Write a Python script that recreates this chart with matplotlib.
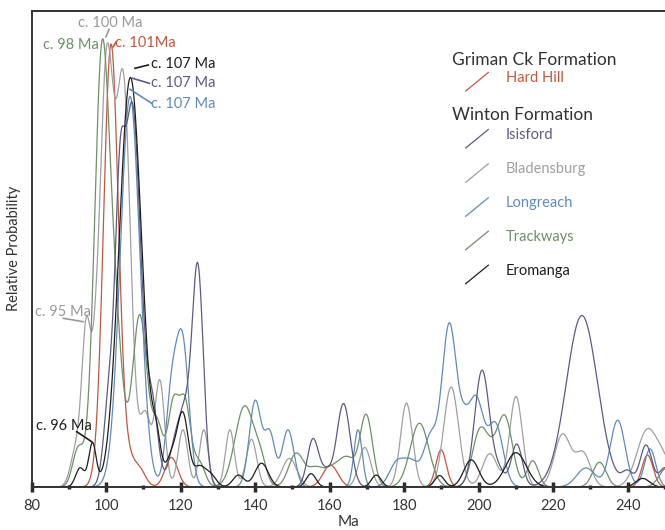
import numpy as np
import matplotlib
matplotlib.use("Agg")
import matplotlib.pyplot as plt
from matplotlib.lines import Line2D

plt.rcParams['font.family'] = ['Lato', 'DejaVu Sans']

# peak ages (Ma), relative heights and widths (Ma) of each probability curve
hard_hill_ages = [101.3, 106.3, 109.0, 117.5, 160.2, 189.9, 245.3]
hard_hill_heights = [0.93, 0.04, 0.035, 0.062, 0.046, 0.078, 0.067]
hard_hill_widths = [2.0, 1.5, 1.6, 1.7, 2.0, 1.4, 1.5]

isisford_ages = [101.0, 103.6, 107.0, 112.5, 118.0, 121.0, 124.6, 155.5, 159.0, 163.7,
                 200.9, 205.5, 210.2, 227.7, 240.0, 244.9, 250.0]
isisford_heights = [0.2, 0.4, 0.8, 0.15, 0.06, 0.15, 0.45, 0.1, 0.03, 0.175,
                    0.245, 0.03, 0.09, 0.36, 0.03, 0.088, 0.04]
isisford_widths = [1.5, 1.2, 2.3, 1.5, 1.5, 1.8, 1.5, 1.5, 1.5, 1.8,
                   2.0, 1.5, 1.5, 4.2, 1.5, 1.6, 1.5]

bladensburg_ages = [92.0, 94.7, 97.0, 100.1, 104.7, 110.5, 114.4, 120.6, 126.2, 133.2,
                    139.0, 149.2, 169.4, 180.6, 192.6, 203.0, 210.0, 222.5, 228.0, 245.3, 250.0]
bladensburg_heights = [0.08, 0.32, 0.1, 0.88, 0.82, 0.15, 0.22, 0.12, 0.12, 0.12,
                       0.1, 0.06, 0.083, 0.176, 0.21, 0.07, 0.19, 0.11, 0.07, 0.12, 0.04]
bladensburg_widths = [1.5, 1.2, 1.0, 1.9, 1.9, 1.5, 1.3, 1.3, 1.2, 1.2,
                      1.4, 2.0, 1.6, 1.6, 2.0, 2.0, 1.7, 2.2, 2.0, 2.8, 2.0]

longreach_ages = [106.4, 117.5, 120.5, 140.0, 143.9, 148.8, 167.6, 178.0, 182.0, 187.0,
                  192.1, 196.0, 199.3, 204.5, 228.8, 237.3, 246.0]
longreach_heights = [0.82, 0.18, 0.3, 0.18, 0.11, 0.12, 0.12, 0.05, 0.05, 0.1,
                     0.34, 0.08, 0.18, 0.13, 0.04, 0.14, 0.08]
longreach_widths = [2.6, 1.5, 1.7, 1.6, 1.4, 1.6, 1.1, 2.0, 2.0, 1.8,
                    2.0, 1.5, 2.0, 2.0, 2.5, 2.0, 1.5]

trackways_ages = [92.5, 98.8, 102.5, 109.0, 113.8, 118.0, 121.2, 125.0, 137.2, 141.5,
                  151.0, 156.0, 161.0, 165.0, 169.8, 184.1, 200.2, 203.5, 207.1, 214.5,
                  232.4, 250.5]
trackways_heights = [0.08, 0.88, 0.3, 0.36, 0.12, 0.17, 0.17, 0.05, 0.17, 0.04,
                     0.07, 0.035, 0.04, 0.05, 0.15, 0.134, 0.11, 0.05, 0.14, 0.055,
                     0.052, 0.04]
trackways_widths = [1.5, 2.0, 2.0, 2.0, 1.5, 1.5, 1.5, 1.5, 2.6, 1.5,
                    2.0, 2.0, 2.5, 2.0, 1.7, 2.5, 2.0, 2.0, 2.0, 1.5,
                    1.8, 2.0]

eromanga_ages = [93.0, 96.3, 106.5, 113.5, 117.5, 120.6, 125.0, 128.0, 135.5, 141.7,
                 155.0, 172.5, 189.5, 198.0, 210.0, 244.0]
eromanga_heights = [0.04, 0.09, 0.86, 0.08, 0.06, 0.15, 0.04, 0.025, 0.025, 0.05,
                    0.028, 0.025, 0.024, 0.057, 0.072, 0.018]
eromanga_widths = [1.2, 1.0, 3.0, 1.2, 1.5, 1.5, 1.5, 1.5, 1.5, 1.8,
                   1.3, 1.3, 1.3, 2.0, 2.8, 1.8]

major_ticks = [80, 100, 120, 140, 160, 180, 200, 220, 240]
minor_ticks = [90, 110, 130, 150, 170, 190, 210, 230, 250]

series = [
    ("Hard Hill", "#c5573d", hard_hill_ages, hard_hill_heights, hard_hill_widths),
    ("Bladensburg", "#a0a0a0", bladensburg_ages, bladensburg_heights, bladensburg_widths),
    ("Trackways", "#6e9166", trackways_ages, trackways_heights, trackways_widths),
    ("Longreach", "#5f8cba", longreach_ages, longreach_heights, longreach_widths),
    ("Isisford", "#5c5b85", isisford_ages, isisford_heights, isisford_widths),
    ("Eromanga", "#1e1e1e", eromanga_ages, eromanga_heights, eromanga_widths),
]

W, H = 665, 530
fig = plt.figure(figsize=(W / 100, H / 100), dpi=100)
ax = fig.add_axes([31.7 / W, 1 - 487 / H, 1 - 31.7 / W, (487 - 10.7) / H])

x = np.linspace(80, 252, 2000)
for name, color, ages, heights, widths in series:
    y = np.zeros_like(x)
    for a, h, w in zip(ages, heights, widths):
        y += h * np.exp(-0.5 * ((x - a) / w) ** 2)
    ax.plot(x, y, color=color, lw=0.9)

ax.set_xlim(80, 250)
ax.set_ylim(0, 1)
ax.set_yticks([])
ax.set_xticks(major_ticks)
ax.set_xticks(minor_ticks, minor=True)
ax.tick_params(axis='x', which='major', direction='inout', length=7, width=2.5,
               color='#2a2a2a', labelsize=10.5, labelcolor='#333333', pad=5)
ax.tick_params(axis='x', which='minor', direction='inout', length=3, width=2.5, color='#2a2a2a')
for s in ['left', 'top', 'bottom']:
    ax.spines[s].set_color('#333333')
    ax.spines[s].set_linewidth(1.4)
ax.spines['right'].set_visible(False)
ax.set_xlabel("Ma", fontsize=11, color='#333333', labelpad=1.5)
ax.set_ylabel("Relative Probability", fontsize=10.5, color='#333333', labelpad=8)


def fx(px):
    return px / W


def fy(py):
    return 1 - py / H


# peak annotations
notes = [
    ("c. 100 Ma", "#9a9a9a", 78, 22.7, (109, 29.3), (106, 36.7)),
    ("c. 98 Ma", "#6e9166", 42.7, 45, None, None),
    ("c. 101Ma", "#c5573d", 115, 42.7, (113, 47), (116, 42)),
    ("c. 107 Ma", "#1e1e1e", 151, 64, (135, 68.3), (148.3, 65)),
    ("c. 107 Ma", "#5c5b85", 151, 83.3, (132.7, 78.3), (149.3, 83.3)),
    ("c. 107 Ma", "#5f8cba", 151, 104, (130, 89.3), (151.7, 103.3)),
    ("c. 95 Ma", "#9a9a9a", 35, 312.3, (63.3, 318.3), (83.3, 321.7)),
    ("c. 96 Ma", "#1e1e1e", 36, 425.7, (76.7, 431.7), (91.7, 441.7)),
]
for txt, c, tx, ty, p0, p1 in notes:
    fig.text(fx(tx), fy(ty), txt, color=c, fontsize=10.5, ha='left', va='center')
    if p0 is not None:
        fig.add_artist(Line2D([fx(p0[0]), fx(p1[0])], [fy(p0[1]), fy(p1[1])],
                              color=c, lw=1.2, transform=fig.transFigure))

# legend
fig.text(fx(452), fy(60), "Griman Ck Formation", color='#333333', fontsize=12.5, va='center')
fig.text(fx(452), fy(115), "Winton Formation", color='#333333', fontsize=12.5, va='center')
legend_rows = [("Hard Hill", 78), ("Isisford", 135), ("Bladensburg", 169.3),
               ("Longreach", 203.3), ("Trackways", 236.7), ("Eromanga", 270.7)]
colors = {s[0]: s[1] for s in series}
for name, ty in legend_rows:
    c = colors[name]
    fig.text(fx(506), fy(ty), name, color=c, fontsize=10.5, va='center')
    fig.add_artist(Line2D([fx(465.7), fx(488.3)], [fy(ty + 13), fy(ty - 5.5)],
                          color=c, lw=0.9, transform=fig.transFigure))

fig.savefig("out.png", dpi=100)
